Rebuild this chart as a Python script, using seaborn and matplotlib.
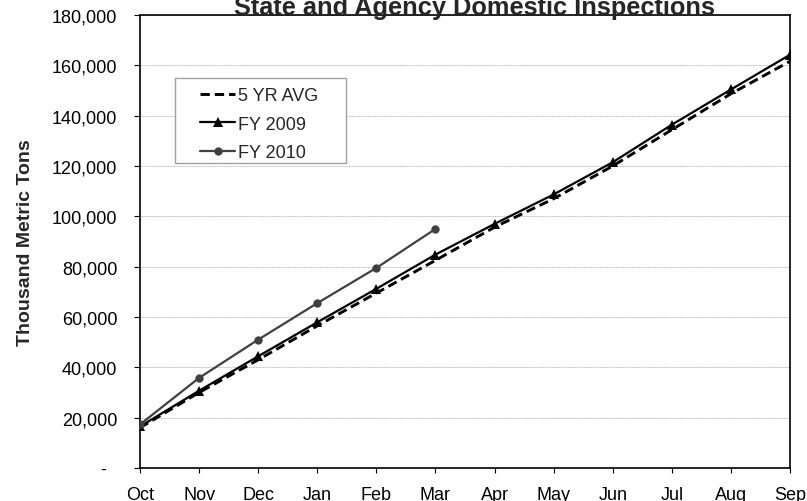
import matplotlib
matplotlib.use("Agg")
import matplotlib.pyplot as plt
from matplotlib.patches import Rectangle
from matplotlib.ticker import FuncFormatter, MultipleLocator
import seaborn as sns
import pandas as pd

months = ["Oct", "Nov", "Dec", "Jan", "Feb", "Mar", "Apr", "May", "Jun", "Jul", "Aug", "Sep"]
avg_5yr = [16000, 30000, 43000, 56500, 69500, 82500, 95700, 107000, 120000, 134400, 148700, 161600]
fy2009 = [16500, 30700, 44400, 57900, 71200, 84800, 97000, 108700, 121500, 136400, 150400, 164200]
fy2010 = [17300, 35800, 51000, 65500, 79500, 95000]

sns.set_style("white")
plt.rcParams["font.family"] = ["Liberation Sans", "DejaVu Sans"]

fig = plt.figure(figsize=(8.07, 5.02), dpi=100)
ax = fig.add_axes([140 / 807, 33 / 502, 650 / 807, 453 / 502])

df_avg = pd.DataFrame({"x": range(len(avg_5yr)), "y": avg_5yr})
df_09 = pd.DataFrame({"x": range(len(fy2009)), "y": fy2009})
df_10 = pd.DataFrame({"x": range(len(fy2010)), "y": fy2010})

sns.lineplot(data=df_avg, x="x", y="y", ax=ax, color="black", linewidth=2.1,
             linestyle=(0, (3.2, 1.7)), label="5 YR AVG", zorder=3)
sns.lineplot(data=df_09, x="x", y="y", ax=ax, color="black", linewidth=1.6,
             marker="^", markersize=7, markeredgewidth=0, label="FY 2009", zorder=4)
sns.lineplot(data=df_10, x="x", y="y", ax=ax, color="#404040", linewidth=1.6,
             marker="o", markersize=6, markeredgewidth=0, label="FY 2010", zorder=5)

ax.set_xlim(0, len(months) - 1)
ax.set_ylim(0, 180000)
ax.set_xticks(range(len(months)))
ax.set_xticklabels(months)
ax.yaxis.set_major_locator(MultipleLocator(20000))
ax.yaxis.set_major_formatter(FuncFormatter(lambda v, p: "-  " if v == 0 else f"{int(v):,}"))
ax.tick_params(axis="both", labelsize=13, colors="black", width=0.8, direction="out",
               bottom=True, left=True)
ax.tick_params(axis="x", length=3.5, pad=9.5)
ax.tick_params(axis="y", length=4.3, pad=12)
ax.grid(axis="y", color="#c0c0c0", linewidth=0.7, linestyle=(0, (1, 0.5)))
ax.set_axisbelow(True)
for s in ax.spines.values():
    s.set_color("black")
    s.set_linewidth(1.2)

ax.set_xlabel("")
ax.set_ylabel("Thousand Metric Tons", fontsize=14, fontweight="bold", labelpad=13)

# legend box drawn separately so its padding matches the reference
ax.add_patch(Rectangle((35 / 650, (469 - 164) / 453), 171 / 650, 85 / 453,
                       transform=ax.transAxes, facecolor="white", edgecolor="#a0a0a0",
                       linewidth=1.0, zorder=6))
leg = ax.legend(loc="upper left", bbox_to_anchor=(51 / 650, 1 - 63 / 453), fontsize=13,
                frameon=False, handlelength=1.95, handletextpad=0.15,
                borderpad=0.5, labelspacing=0.65, borderaxespad=0)
leg.set_zorder(7)

fig.text(474 / 807, 1 - 15 / 502, "State and Agency Domestic Inspections", ha="center",
         va="baseline", fontsize=18.3, fontweight="bold")

fig.savefig("out.png", dpi=100)
